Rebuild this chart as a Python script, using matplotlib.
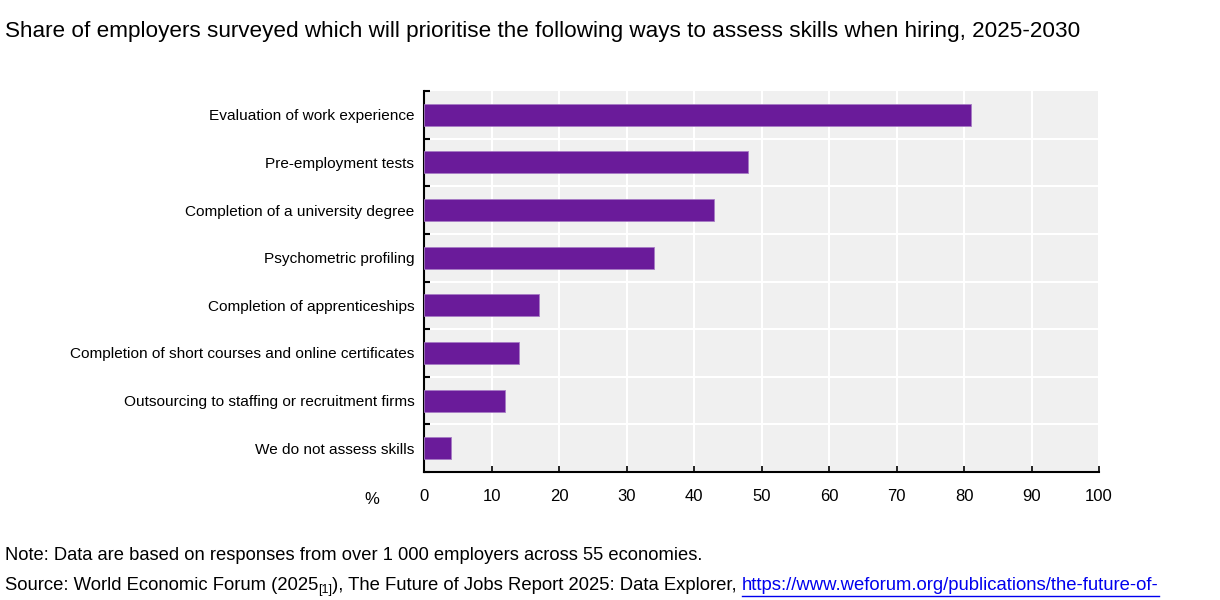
import matplotlib
matplotlib.use('Agg')
import matplotlib.pyplot as plt
import numpy as np

# data
categories = [
    "Evaluation of work experience",
    "Pre-employment tests",
    "Completion of a university degree",
    "Psychometric profiling",
    "Completion of apprenticeships",
    "Completion of short courses and online certificates",
    "Outsourcing to staffing or recruitment firms",
    "We do not assess skills",
]
shares = [81, 48, 43, 34, 17, 14, 12, 4]
x_ticks = [0, 10, 20, 30, 40, 50, 60, 70, 80, 90, 100]

title = "Share of employers surveyed which will prioritise the following ways to assess skills when hiring, 2025-2030"
note = "Note: Data are based on responses from over 1 000 employers across 55 economies."
source = "Source: World Economic Forum (2025"
source_rest = "), The Future of Jobs Report 2025: Data Explorer, "
link = "https://www.weforum.org/publications/the-future-of-"

plt.rcParams['font.family'] = ['Liberation Sans', 'DejaVu Sans']

BAR = "#6a1b9a"
BG = "#f0f0f0"

fig = plt.figure(figsize=(12.2, 6), dpi=100)
ax = fig.add_axes([424 / 1220, 1 - 472 / 600, (1099 - 424) / 1220, (472 - 91) / 600])
ax.set_facecolor(BG)

y = np.arange(len(categories))
ax.barh(y, shares, height=0.46, color=BAR, edgecolor="#a77bc4", linewidth=0.6, zorder=3)

ax.set_xlim(0, 100)
ax.set_ylim(len(categories) - 0.5, -0.5)
ax.set_xticks(x_ticks)
ax.set_xticklabels([str(t) for t in x_ticks], fontsize=12)
ax.set_yticks(y)
ax.set_yticklabels(categories, fontsize=11.1)

# grid: white verticals at ticks, white horizontals at category boundaries
for t in x_ticks[1:]:
    ax.axvline(t, color="white", lw=1.5, zorder=1)
for b in np.arange(0.5, len(categories) - 0.5, 1):
    ax.axhline(b, color="white", lw=1.5, zorder=1)

# boundary ticks on the left spine
ax.set_yticks(np.arange(-0.5, len(categories), 1), minor=True)
ax.tick_params(axis='y', which='major', length=0, pad=7)
ax.tick_params(axis='y', which='minor', direction='in', length=4, width=1.5, color='black')
ax.tick_params(axis='x', direction='in', length=4, width=1.2, pad=12)

for s in ['top', 'right']:
    ax.spines[s].set_visible(False)
ax.spines['left'].set_linewidth(1.5)
ax.spines['bottom'].set_linewidth(1.5)

fig.text(372 / 1220, 1 - 499 / 600, "%", fontsize=12, ha='center', va='center')

fig.text(5 / 1220, 1 - 31 / 600, title, fontsize=16.2, ha='left', va='center')
fig.text(5 / 1220, 1 - 556 / 600, note, fontsize=13.2, ha='left', va='center')

t1 = fig.text(5 / 1220, 1 - 586 / 600, source, fontsize=13.3, ha='left', va='center')
fig.canvas.draw()
r = fig.canvas.get_renderer()
bb = t1.get_window_extent(r)
t2 = fig.text(bb.x1 / 1220, 1 - 590 / 600, "[1]", fontsize=9, ha='left', va='center')
bb2 = t2.get_window_extent(r)
t3 = fig.text(bb2.x1 / 1220, 1 - 586 / 600, source_rest, fontsize=13.3, ha='left', va='center')
bb3 = t3.get_window_extent(r)
t4 = fig.text(bb3.x1 / 1220, 1 - 586 / 600, link, fontsize=13.3, ha='left', va='center',
              color='#0000ee')
bb4 = t4.get_window_extent(r)
fig.lines.append(plt.Line2D([bb4.x0 / 1220, bb4.x1 / 1220], [1 - 596 / 600, 1 - 596 / 600],
                            transform=fig.transFigure, color='#0000ee', lw=1))

fig.savefig("out.png", dpi=100)
